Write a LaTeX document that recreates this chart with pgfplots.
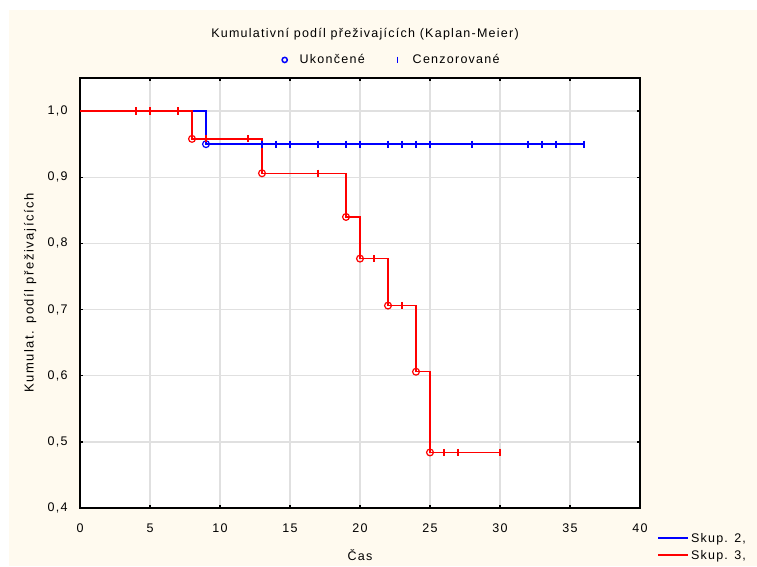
\documentclass[border=0pt]{standalone}
\usepackage{fontspec}
\setmainfont{Liberation Sans}[LetterSpace=10]
\usepackage{pgfplots}
\pgfplotsset{compat=1.18}
\definecolor{cream}{RGB}{255,250,239}
\definecolor{gridc}{RGB}{224,224,224}
\definecolor{kblue}{RGB}{0,0,255}
\definecolor{kred}{RGB}{255,0,0}
\newcommand{\fs}{\fontsize{12.5}{14.5}\selectfont}
\newcommand{\fy}{\fontsize{13}{15}\selectfont\addfontfeature{LetterSpace=12}}
\begin{document}
\begin{tikzpicture}[x=1pt,y=1pt]
\useasboundingbox (0,0) rectangle (757,566);
\fill[white] (0,0) rectangle (757,566);
\fill[cream] (9,0) rectangle (757,556);
\begin{axis}[
  at={(80pt,58pt)}, anchor=south west, scale only axis,
  width=560pt, height=430pt,
  xmin=0, xmax=40, ymin=0.4, ymax=1.05,
  xtick={0,5,...,40}, ytick={0.4,0.5,0.6,0.7,0.8,0.9,1.0},
  axis background/.style={fill=white},
  axis line style={line width=1.6pt, black},
  tick style={line width=1.3pt, black},
  major tick length=3pt,
  tick align=inside,
  grid=major,
  major grid style={line width=1.3pt, gridc},
  /pgf/number format/assume math mode=true,
  /pgf/number format/use comma,
  yticklabel style={/pgf/number format/fixed, /pgf/number format/fixed zerofill, /pgf/number format/precision=1, font=\fs, xshift=-9pt},
  xticklabel style={font=\fs, yshift=-12pt},
  xlabel={Čas}, ylabel={Kumulat. podíl přeživajících},
  xlabel style={font=\fs, at={(axis description cs:0.5,-0.109)}, anchor=center},
  ylabel style={font=\fy, at={(axis description cs:-0.089,0.5)}, anchor=center, rotate=0},
  title={Kumulativní podíl přeživajících (Kaplan-Meier)},
  title style={font=\fs, at={(axis description cs:0.509,1.087)}, anchor=center, yshift=0pt},
  legend style={draw=none, fill=none, font=\fs, at={(axis description cs:1.025,-0.0485)}, anchor=north west,
    row sep=2.5pt, cells={anchor=west}},
  legend image code/.code={\draw[#1, line width=1.8pt] (0pt,0pt) -- (30pt,0pt);},
  clip=false,
]
\addplot[kblue, line width=1.5pt, const plot] coordinates {(0,1) (9,0.95) (36,0.95)};
\addlegendentry{Skup. 2,}
\addplot[kred, line width=1.5pt, const plot] coordinates {(0,1) (8,0.958) (13,0.906) (19,0.840) (20,0.777) (22,0.706) (24,0.606) (25,0.484) (30,0.484)};
\addlegendentry{Skup. 3,}
\addplot[kblue, only marks, mark=|, mark size=3.6pt, line width=1.2pt, forget plot] coordinates {(13,0.95) (14,0.95) (15,0.95) (17,0.95) (19,0.95) (20,0.95) (22,0.95) (23,0.95) (24,0.95) (25,0.95) (28,0.95) (32,0.95) (33,0.95) (34,0.95) (36,0.95)};
\addplot[kblue, only marks, mark=o, mark size=3.4pt, line width=1.2pt, forget plot] coordinates {(9,0.95)};
\addplot[kred, only marks, mark=|, mark size=3.6pt, line width=1.2pt, forget plot] coordinates {(4,1) (5,1) (7,1) (9,0.958) (12,0.958) (17,0.906) (21,0.777) (23,0.706) (26,0.484) (27,0.484) (30,0.484)};
\addplot[kred, only marks, mark=o, mark size=3.4pt, line width=1.2pt, forget plot] coordinates {(8,0.958) (13,0.906) (19,0.840) (20,0.777) (22,0.706) (24,0.606) (25,0.484)};
\end{axis}
\begin{axis}[
  at={(80pt,58pt)}, anchor=south west, scale only axis,
  width=560pt, height=430pt, hide axis,
  xmin=0, xmax=1, ymin=0, ymax=1,
  legend columns=2,
  legend style={draw=none, fill=none, font=\fs, at={(axis description cs:0.5565,1.042)}, anchor=center,
    /tikz/every even column/.append style={column sep=28pt}},
  legend image code/.code={\path[draw=none] (-3pt,0pt) -- (13pt,0pt); \draw[#1] plot coordinates {(0pt,0pt)};},
]
\addlegendimage{kblue, only marks, mark=o, mark size=2.6pt, line width=1.5pt}
\addlegendentry{Ukončené}
\addlegendimage{kblue, only marks, mark=|, mark size=3.2pt, line width=1.3pt}
\addlegendentry{Cenzorované}
\end{axis}
\end{tikzpicture}
\end{document}
